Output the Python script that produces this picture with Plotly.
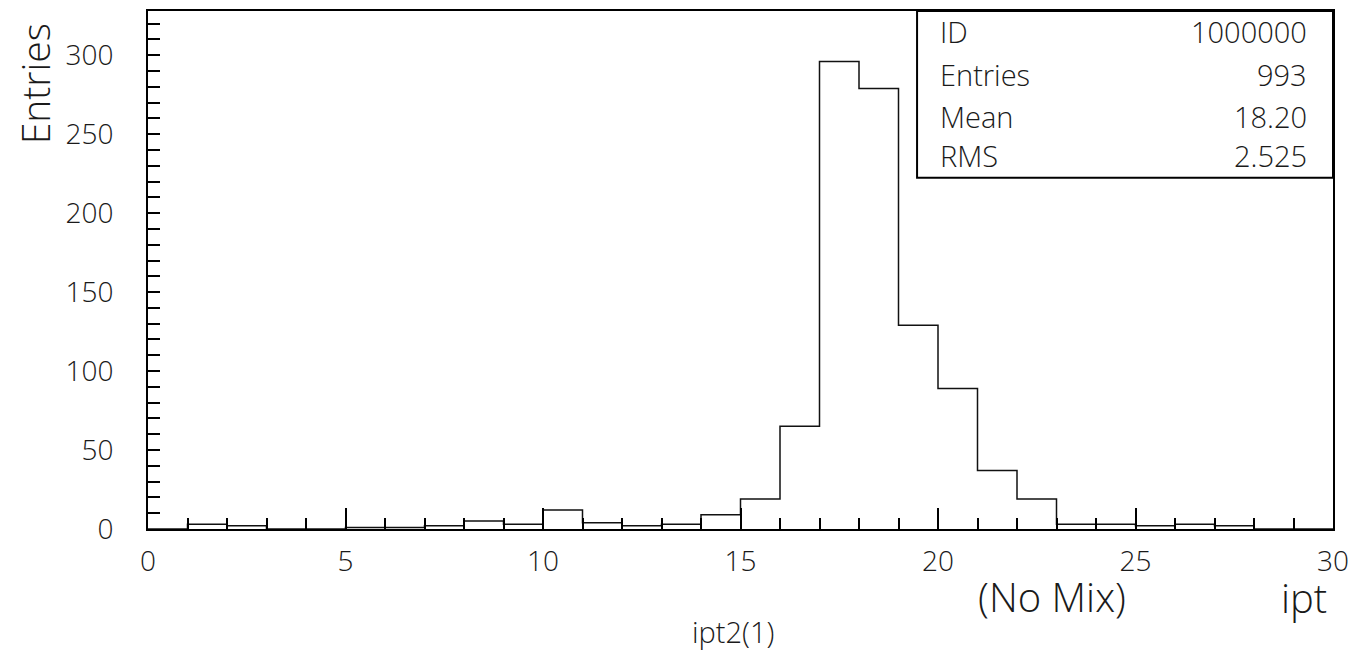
import plotly.graph_objects as go

# Histogram data (bin edges 0..30, width 1)
bin_edges = list(range(0, 31))
counts = [0, 3, 2, 0, 0, 1, 1, 2, 5, 3,
          12, 4, 2, 3, 9, 19, 65, 296, 279, 129,
          89, 37, 19, 3, 3, 2, 3, 2, 0, 0]

stat_labels = ["ID", "Entries", "Mean", "RMS"]
stat_values = ["1000000", "993", "18.20", "2.525"]
stat_ypos = [0.961, 0.878, 0.797, 0.722]

FONT = "Open Sans"
TXT = "#1a1a1a"

fig = go.Figure()
fig.add_trace(go.Scatter(
    x=bin_edges,
    y=counts + [counts[-1]],
    mode="lines",
    line=dict(shape="hv", color="#111111", width=1.5),
    hoverinfo="skip",
    showlegend=False,
))

# page body has an 8px default margin; compensate
fig.update_layout(
    width=1359, height=646,
    margin=dict(l=140, r=34, t=3, b=125, autoexpand=False),
    paper_bgcolor="white", plot_bgcolor="white",
    showlegend=False,
    font=dict(family=FONT, color=TXT, weight=300),
)
fig.update_xaxes(
    range=[0, 30], showgrid=False, zeroline=False,
    showline=True, linecolor="black", linewidth=2, mirror=True,
    ticks="inside", ticklen=21, tickwidth=1.5, tickcolor="black",
    tickmode="linear", tick0=0, dtick=5, ticklabelstandoff=6,
    minor=dict(ticks="inside", ticklen=11, tickwidth=1.5, tickcolor="black", dtick=1, showgrid=False),
    tickfont=dict(family=FONT, size=28, color=TXT, weight=300),
)
fig.update_yaxes(
    range=[0, 328], showgrid=False, zeroline=False,
    showline=True, linecolor="black", linewidth=2, mirror=True,
    ticks="inside", ticklen=12, tickwidth=1.5, tickcolor="black",
    tickmode="linear", tick0=0, dtick=50, ticklabelstandoff=27,
    minor=dict(ticks="inside", ticklen=12, tickwidth=1.5, tickcolor="black", dtick=10, showgrid=False),
    tickfont=dict(family=FONT, size=28, color=TXT, weight=300),
)

# Stats box
fig.add_shape(type="rect", xref="paper", yref="paper",
              x0=0.649, x1=1.0, y0=0.678, y1=1.0,
              line=dict(color="black", width=2), fillcolor="white", layer="above")
for lab, val, yp in zip(stat_labels, stat_values, stat_ypos):
    fig.add_annotation(xref="paper", yref="paper", x=0.667, y=yp, text=lab,
                       showarrow=False, xanchor="left", yanchor="middle",
                       font=dict(family=FONT, size=29, color=TXT, weight=300))
    fig.add_annotation(xref="paper", yref="paper", x=0.98, y=yp, text=val,
                       showarrow=False, xanchor="right", yanchor="middle",
                       font=dict(family=FONT, size=29, color=TXT, weight=300))

# Titles
fig.add_annotation(xref="paper", yref="paper", x=-0.0955, y=0.86, text="Entries",
                   textangle=-90, showarrow=False, xanchor="center", yanchor="middle",
                   font=dict(family=FONT, size=39, color=TXT, weight=300))
fig.add_annotation(xref="paper", yref="paper", x=0.997, y=-0.133, text="ipt",
                   showarrow=False, xanchor="right", yanchor="middle",
                   font=dict(family=FONT, size=40, color=TXT, weight=300))
fig.add_annotation(xref="paper", yref="paper", x=0.763, y=-0.131, text="(No Mix)",
                   showarrow=False, xanchor="center", yanchor="middle",
                   font=dict(family=FONT, size=40, color=TXT, weight=300))
fig.add_annotation(xref="paper", yref="paper", x=0.494, y=-0.198, text="ipt2(1)",
                   showarrow=False, xanchor="center", yanchor="middle",
                   font=dict(family=FONT, size=29, color=TXT, weight=300))

fig.write_html("out.html")
